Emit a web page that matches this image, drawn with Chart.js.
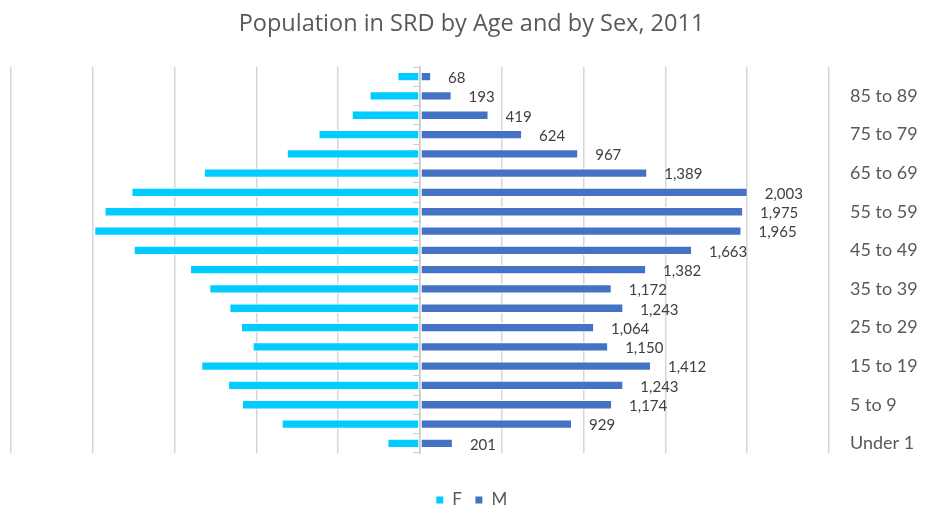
<!DOCTYPE html>
<html>
<head>
<meta charset="utf-8">
<script src="https://cdn.jsdelivr.net/npm/chart.js@4"></script>
<style>
  html, body { margin: 0; padding: 0; background: #ffffff; }
  canvas { display: block; }
</style>
</head>
<body>
<canvas id="pyramid" width="932" height="508"></canvas>
<script>
// Age groups, youngest first (drawn bottom to top)
const ageGroups = [
  'Under 1', '1 to 4', '5 to 9', '10 to 14', '15 to 19', '20 to 24',
  '25 to 29', '30 to 34', '35 to 39', '40 to 44', '45 to 49', '50 to 54',
  '55 to 59', '60 to 64', '65 to 69', '70 to 74', '75 to 79', '80 to 84',
  '85 to 89', '90 and over'
];

// Female population per age group
const female = [
  199, 845, 1088, 1173, 1337, 1023, 1094, 1165, 1288, 1406,
  1750, 1991, 1928, 1764, 1321, 814, 620, 417, 308, 138
];

// Male population per age group
const male = [
  201, 929, 1174, 1243, 1412, 1150, 1064, 1243, 1172, 1382,
  1663, 1965, 1975, 2003, 1389, 967, 624, 419, 193, 68
];

const seriesNames = ['F', 'M'];
const seriesColors = ['#00ccff', '#4472c4'];

const axisMin = -2500;
const axisMax = 2500;
const gridStep = 500;

Chart.defaults.font.family = 'Lato, "Open Sans", sans-serif';
Chart.defaults.color = '#595959';

// Writes the male counts just past the end of each male bar
const maleValueLabels = {
  id: 'maleValueLabels',
  afterDatasetsDraw(chart) {
    const meta = chart.getDatasetMeta(1);
    const ctx = chart.ctx;
    ctx.save();
    ctx.font = '15px Lato, "Open Sans", sans-serif';
    ctx.fillStyle = '#404040';
    ctx.textAlign = 'left';
    ctx.textBaseline = 'middle';
    meta.data.forEach((bar, i) => {
      ctx.fillText(male[i].toLocaleString('en-US'), bar.x + 17, bar.y + 1.5);
    });
    ctx.restore();
  }
};

new Chart(document.getElementById('pyramid'), {
  type: 'bar',
  data: {
    labels: ageGroups,
    datasets: [
      {
        label: seriesNames[0],
        data: female.map(v => -v),
        backgroundColor: seriesColors[0],
        borderColor: '#ffffff',
        borderWidth: 1,
        borderSkipped: false,
        barPercentage: 0.48,
        categoryPercentage: 1
      },
      {
        label: seriesNames[1],
        data: male,
        backgroundColor: seriesColors[1],
        borderColor: '#ffffff',
        borderWidth: 1,
        borderSkipped: false,
        barPercentage: 0.48,
        categoryPercentage: 1
      }
    ]
  },
  options: {
    indexAxis: 'y',
    responsive: false,
    animation: false,
    layout: { padding: { left: 11, right: 0, top: 0, bottom: -10.5 } },
    scales: {
      x: {
        type: 'linear',
        stacked: true,
        min: axisMin,
        max: axisMax,
        ticks: { display: false, stepSize: gridStep },
        grid: { color: '#d6d6d6', lineWidth: 1.5, drawTicks: false },
        border: { display: false },
        afterFit(scale) { scale.height = 25.5; }
      },
      // Centre axis: vertical line at zero with small category ticks
      y: {
        type: 'category',
        stacked: true,
        reverse: true,
        offset: true,
        position: { x: 0 },
        ticks: { display: false },
        grid: {
          offset: true,
          drawOnChartArea: false,
          drawTicks: true,
          tickLength: 6,
          color: '#d0d0d0',
          lineWidth: 1,
          z: 1
        },
        border: { display: true, color: '#c8c8c8', width: 1.5, z: 1 },
        afterFit(scale) { scale.width = 0; }
      },
      // Age group names along the right edge, every other group
      yLabels: {
        type: 'category',
        position: 'right',
        reverse: true,
        offset: true,
        grid: { display: false, drawTicks: false },
        border: { display: false },
        ticks: {
          autoSkip: false,
          padding: 21,
          crossAlign: 'near',
          color: '#595959',
          font: { size: 18 },
          callback(value, index) {
            return index % 2 === 0 ? this.getLabelForValue(value) : '';
          }
        },
        afterFit(scale) { scale.width = 103; }
      }
    },
    plugins: {
      title: {
        display: true,
        text: 'Population in SRD by Age and by Sex, 2011',
        color: '#595959',
        font: { family: '"Open Sans", Lato, sans-serif', size: 23.5, weight: 'normal' },
        padding: { top: 10.5, bottom: 28.3 }
      },
      legend: {
        position: 'bottom',
        labels: {
          boxWidth: 8,
          boxHeight: 8,
          padding: 13,
          color: '#595959',
          font: { size: 17 }
        }
      },
      tooltip: { enabled: false }
    }
  },
  plugins: [maleValueLabels]
});
</script>
</body>
</html>
